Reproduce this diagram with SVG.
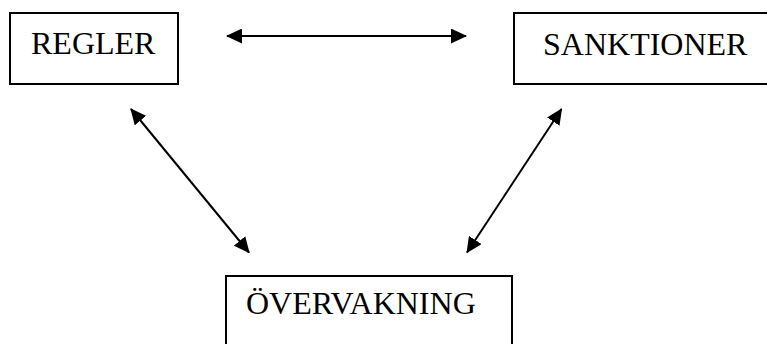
<svg xmlns="http://www.w3.org/2000/svg" width="767" height="344" viewBox="0 0 767 344">
<style>
.box{fill:#fff;stroke:#000;stroke-width:2}
.lbl{font-family:"Liberation Serif","Times New Roman",serif;font-size:32px;fill:#000}
.conn{stroke:#000;stroke-width:2;fill:none}
</style>
<defs>
<marker id="ah" viewBox="0 0 16 15" refX="15" refY="7.5" markerWidth="16" markerHeight="15" markerUnits="userSpaceOnUse" orient="auto-start-reverse">
<path d="M0,0 L16,7.5 L0,15 z" fill="#000"/>
</marker>
</defs>
<rect width="767" height="344" fill="#fff"/>
<g id="regler">
<rect class="box" x="10" y="13" width="168" height="71"/>
<text class="lbl" x="31" y="54">REGLER</text>
</g>
<g id="sanktioner">
<rect class="box" x="514" y="13" width="260" height="71"/>
<text class="lbl" x="543" y="55">SANKTIONER</text>
</g>
<g id="overvakning">
<rect class="box" x="226" y="276" width="286" height="80"/>
<text class="lbl" x="246" y="314">ÖVERVAKNING</text>
</g>
<g id="connectors">
<line class="conn" x1="227" y1="36" x2="466" y2="36" marker-start="url(#ah)" marker-end="url(#ah)"/>
<line class="conn" x1="131" y1="109" x2="249" y2="252.5" marker-start="url(#ah)" marker-end="url(#ah)"/>
<line class="conn" x1="561.5" y1="109" x2="467" y2="252.5" marker-start="url(#ah)" marker-end="url(#ah)"/>
</g>
</svg>
